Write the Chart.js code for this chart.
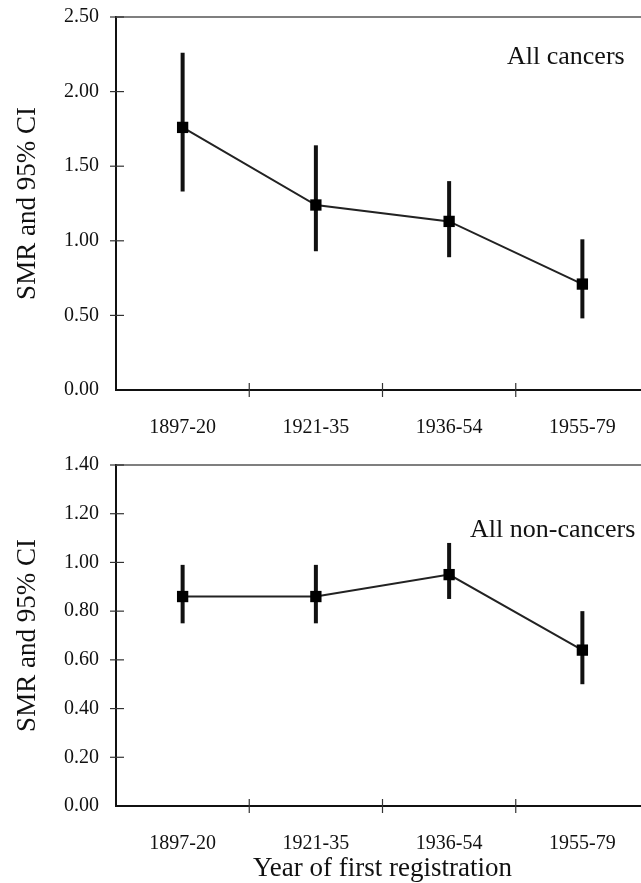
<!DOCTYPE html>
<html>
<head>
<meta charset="utf-8">
<script src="https://cdn.jsdelivr.net/npm/chart.js@4.4.1/dist/chart.umd.min.js"></script>
<style>
  html, body { margin: 0; padding: 0; background: #fff; overflow: hidden; }
  .panel { position: absolute; left: 0; }
</style>
</head>
<body>
<div class="panel" style="top:0"><canvas id="cancerChart" width="660" height="440"></canvas></div>
<div class="panel" style="top:440px"><canvas id="nonCancerChart" width="660" height="443"></canvas></div>
<script>
// --- data ---
const periods = ['1897-20', '1921-35', '1936-54', '1955-79'];

const cancerSMR  = [1.76, 1.24, 1.13, 0.71];
const cancerLow  = [1.33, 0.93, 0.89, 0.48];
const cancerHigh = [2.26, 1.64, 1.40, 1.01];

const nonCancerSMR  = [0.86, 0.86, 0.95, 0.64];
const nonCancerLow  = [0.75, 0.75, 0.85, 0.50];
const nonCancerHigh = [0.99, 0.99, 1.08, 0.80];

const cancerTicks    = [0, 0.5, 1.0, 1.5, 2.0, 2.5];
const nonCancerTicks = [0, 0.2, 0.4, 0.6, 0.8, 1.0, 1.2, 1.4];

const FONT = "'Liberation Serif', 'Times New Roman', serif";
const INK = '#111';

// vertical CI bars, drawn under the square markers
const errorBars = {
  id: 'errorBars',
  beforeDatasetsDraw(chart, args, opts) {
    const { ctx, scales: { x, y } } = chart;
    ctx.save();
    ctx.strokeStyle = '#111';
    ctx.lineWidth = 4;
    opts.low.forEach((lo, i) => {
      const px = x.getPixelForValue(i);
      ctx.beginPath();
      ctx.moveTo(px, y.getPixelForValue(lo));
      ctx.lineTo(px, y.getPixelForValue(opts.high[i]));
      ctx.stroke();
    });
    ctx.restore();
  }
};

// top frame line, tick marks crossing the axes, panel caption
const frame = {
  id: 'frame',
  afterDraw(chart, args, opts) {
    const { ctx, chartArea: a, scales: { x, y } } = chart;
    ctx.save();
    ctx.strokeStyle = '#555';
    ctx.lineWidth = 1.5;
    ctx.beginPath();
    ctx.moveTo(a.left, a.top);
    ctx.lineTo(a.right, a.top);
    ctx.stroke();

    ctx.strokeStyle = '#333';
    ctx.lineWidth = 1.2;
    y.ticks.forEach((t, i) => {
      if (i === 0) return;
      const py = y.getPixelForTick(i);
      ctx.beginPath();
      ctx.moveTo(a.left - 6, py);
      ctx.lineTo(a.left + 8, py);
      ctx.stroke();
    });
    for (let i = 0; i < periods.length - 1; i++) {
      const px = (x.getPixelForTick(i) + x.getPixelForTick(i + 1)) / 2;
      ctx.beginPath();
      ctx.moveTo(px, a.bottom - 7);
      ctx.lineTo(px, a.bottom + 7);
      ctx.stroke();
    }

    ctx.fillStyle = INK;
    ctx.font = '26px ' + FONT;
    ctx.textBaseline = 'middle';
    ctx.textAlign = 'left';
    ctx.fillText(opts.caption, opts.capX, opts.capY);
    ctx.restore();
  }
};

function makeChart(id, smr, low, high, ticks, caption, capX, capY, pad, xHeight, showXTitle) {
  const yMax = ticks[ticks.length - 1];
  const step = ticks[1] - ticks[0];
  return new Chart(document.getElementById(id), {
    type: 'line',
    data: {
      labels: periods,
      datasets: [{
        data: smr,
        borderColor: '#222',
        borderWidth: 2,
        pointStyle: 'rect',
        pointRadius: 8,
        pointBackgroundColor: '#000',
        pointBorderColor: '#000',
        pointBorderWidth: 0,
        tension: 0
      }]
    },
    options: {
      responsive: false,
      animation: false,
      devicePixelRatio: 1,
      layout: { padding: { top: pad, right: 11, left: 0, bottom: 0 } },
      plugins: {
        legend: { display: false },
        tooltip: { enabled: false },
        errorBars: { low: low, high: high },
        frame: { caption: caption, capX: capX, capY: capY }
      },
      scales: {
        x: {
          type: 'category',
          offset: true,
          grid: { display: false },
          border: { display: true, color: INK, width: 2 },
          ticks: { color: INK, padding: 18, font: { family: FONT, size: 20 } },
          title: {
            display: showXTitle,
            text: 'Year of first registration',
            color: INK,
            font: { family: FONT, size: 27 },
            padding: { top: 0, bottom: -2 }
          },
          afterFit(scale) {
            scale.height = xHeight;
            scale.paddingLeft = 0;
            scale.paddingRight = 0;
          }
        },
        y: {
          min: 0,
          max: yMax,
          grid: { display: false },
          border: { display: true, color: INK, width: 2 },
          ticks: {
            stepSize: step,
            color: INK,
            padding: 9,
            font: { family: FONT, size: 20 },
            callback: v => Number(v).toFixed(2)
          },
          title: {
            display: true,
            text: 'SMR and 95% CI',
            color: INK,
            font: { family: FONT, size: 27 },
            padding: { top: 12, bottom: 0 }
          },
          afterFit(scale) {
            scale.width = 116;
            scale.paddingTop = 0;
            scale.paddingBottom = 0;
          }
        }
      }
    },
    plugins: [errorBars, frame]
  });
}

makeChart('cancerChart', cancerSMR, cancerLow, cancerHigh, cancerTicks,
  'All cancers', 507, 57, 17, 50, false);
makeChart('nonCancerChart', nonCancerSMR, nonCancerLow, nonCancerHigh, nonCancerTicks,
  'All non-cancers', 470, 90, 25, 77, true);
</script>
</body>
</html>
